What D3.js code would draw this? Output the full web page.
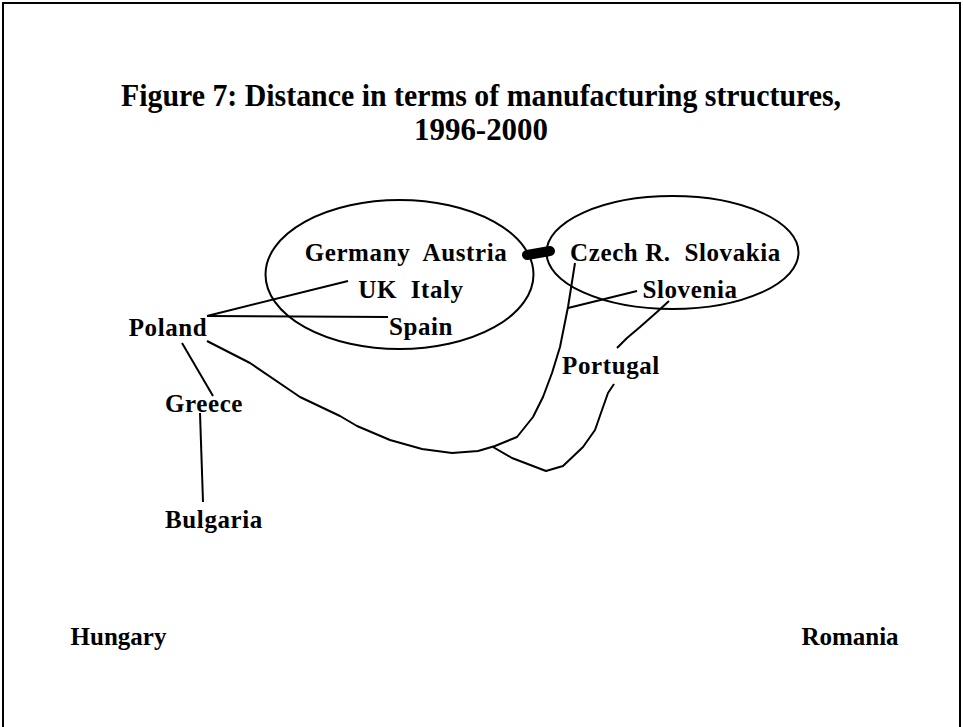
<!DOCTYPE html>
<html>
<head>
<meta charset="utf-8">
<script src="https://cdn.jsdelivr.net/npm/d3@7"></script>
<style>
  html, body { margin: 0; padding: 0; background: #fff; }
  svg { display: block; font-family: "Liberation Serif", "Times New Roman", serif; }
</style>
</head>
<body>
<script>
// map units: x grows right, y grows up (10 px per unit on screen)
var countries = ['Germany  Austria', 'UK  Italy', 'Spain', 'Czech R.  Slovakia', 'Slovenia',
  'Portugal', 'Poland', 'Greece', 'Bulgaria', 'Hungary', 'Romania'];
var labelX = [36.6, 37.1, 38.1, 63.55, 65.0, 57.1, 12.8, 16.4, 17.4, 7.85, 81.0];
var labelY = [43.9, 40.2, 36.5, 43.9, 40.2, 32.6, 36.4, 28.8, 17.2, 5.5, 5.5];

// clusters drawn as ellipses: centre and radii in map units
var clusterCx = [35.95, 63.25];
var clusterCy = [42.55, 44.75];
var clusterRx = [13.4, 12.6];
var clusterRy = [7.45, 5.65];

// link between the two clusters
var bridge = [[48.7, 44.5], [51.0, 44.9]];

// links between countries
var links = [
  [[16.7, 38.4], [30.8, 41.9]],                       // Poland - UK Italy
  [[16.7, 38.4], [34.8, 38.3]],                       // Poland - Spain
  [[14.2, 35.7], [17.3, 30.4]],                       // Poland - Greece
  [[16.0, 28.7], [16.3, 19.8]],                       // Greece - Bulgaria
  [[59.7, 40.9], [52.8, 39.2]],                       // Slovenia - path
  [[62.9, 39.9], [61.7, 38.8], [60.0, 37.3], [58.7, 36.2], [57.7, 35.2]], // Slovenia - Portugal
  [[16.7, 35.9], [21.0, 33.7], [26.0, 30.3], [30.0, 28.4], [31.7, 27.4], [35.0, 26.0],
   [38.2, 25.1], [41.2, 24.7], [43.8, 24.9], [45.5, 25.4], [47.7, 26.3], [49.3, 28.3],
   [50.3, 30.3], [51.2, 32.7], [52.0, 35.3], [52.8, 39.3], [53.5, 43.7]], // Poland - Czech R.
  [[45.3, 25.3], [47.2, 24.2], [50.6, 22.9], [52.3, 23.4], [54.3, 25.3], [55.5, 27.0],
   [56.2, 29.0], [56.8, 30.7], [57.4, 31.6]]         // branch - Portugal
];

var titleLines = ['Figure 7:  Distance in terms of manufacturing structures,', '1996-2000'];

(function () {

  var width = 963;
  var height = 727;

  var svg = d3.select('body').append('svg')
    .attr('width', width)
    .attr('height', height);

  // frame (top, left, right; bottom falls outside the picture)
  svg.append('path')
    .attr('d', 'M3,' + (height + 5) + 'V3H960V' + (height + 5))
    .attr('fill', 'none')
    .attr('stroke', '#000')
    .attr('stroke-width', 2);

  var title = svg.append('g')
  title.append('text')
    .attr('x', 481).attr('y', 106)
    .attr('text-anchor', 'middle')
    .attr('font-size', 32).attr('font-weight', 'bold')
    .attr('textLength', 720).attr('lengthAdjust', 'spacingAndGlyphs')
    .text(titleLines[0]);
  title.append('text')
    .attr('x', 481).attr('y', 140)
    .attr('text-anchor', 'middle')
    .attr('font-size', 32).attr('font-weight', 'bold')
    .attr('textLength', 134).attr('lengthAdjust', 'spacingAndGlyphs')
    .text(titleLines[1]);

  var x = d3.scaleLinear().domain([0, 90]).range([40, 940]);
  var y = d3.scaleLinear().domain([0, 52]).range([700, 180]);

  var line = d3.line()
    .x(function (d) { return x(d[0]); })
    .y(function (d) { return y(d[1]); });

  svg.append('g').selectAll('ellipse')
    .data(clusterCx)
    .join('ellipse')
    .attr('cx', function (d) { return x(d); })
    .attr('cy', function (d, i) { return y(clusterCy[i]); })
    .attr('rx', function (d, i) { return x(clusterRx[i]) - x(0); })
    .attr('ry', function (d, i) { return y(0) - y(clusterRy[i]); })
    .attr('fill', 'none')
    .attr('stroke', '#000')
    .attr('stroke-width', 2);

  svg.append('g').selectAll('path')
    .data(links)
    .join('path')
    .attr('d', line)
    .attr('fill', 'none')
    .attr('stroke', '#000')
    .attr('stroke-width', 2)
    .attr('stroke-linejoin', 'round');

  svg.append('path')
    .attr('d', line(bridge))
    .attr('stroke', '#000')
    .attr('stroke-width', 10)
    .attr('stroke-linecap', 'round');

  svg.append('g').selectAll('text')
    .data(countries)
    .join('text')
    .attr('x', function (d, i) { return x(labelX[i]); })
    .attr('y', function (d, i) { return y(labelY[i]); })
    .attr('text-anchor', 'middle')
    .attr('font-size', 25)
    .attr('font-weight', 'bold')
    .attr('letter-spacing', function (d, i) { return i < 9 ? 0.6 : 0; })
    .style('white-space', 'pre')
    .text(function (d) { return d; });

})();
</script>
</body>
</html>
